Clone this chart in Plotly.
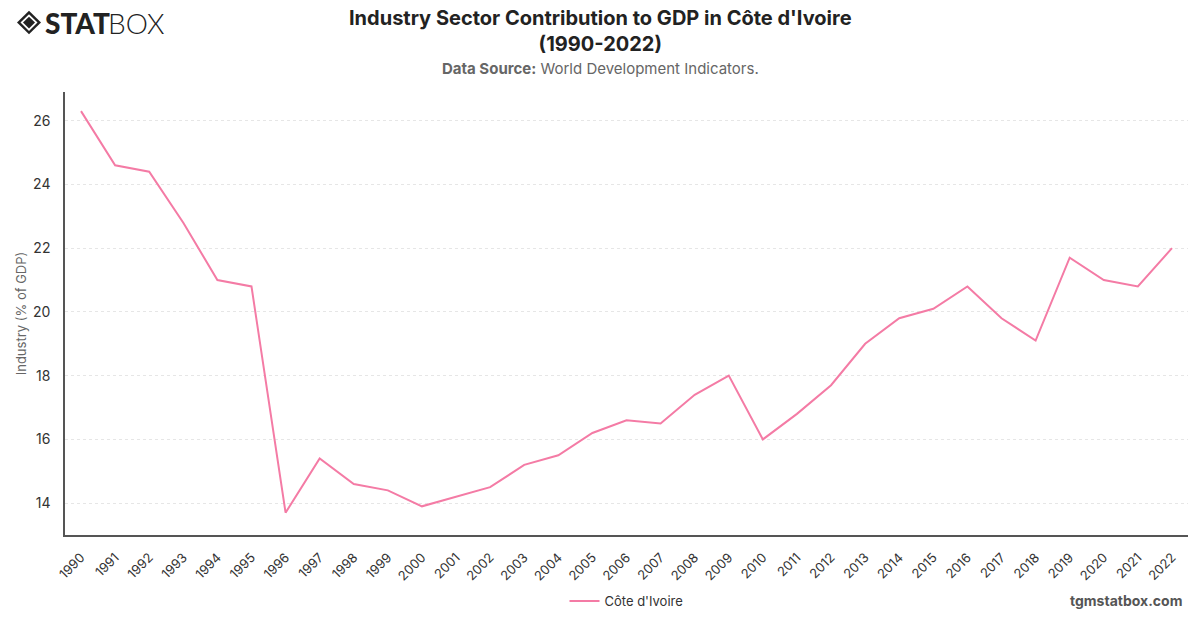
import plotly.graph_objects as go

years = list(range(1990, 2023))
industry_pct = [26.3, 24.6, 24.4, 22.8, 21.0, 20.8, 13.7, 15.4, 14.6, 14.4,
                13.9, 14.2, 14.5, 15.2, 15.5, 16.2, 16.6, 16.5, 17.4, 18.0,
                16.0, 16.8, 17.7, 19.0, 19.8, 20.1, 20.8, 19.8, 19.1, 21.7,
                21.0, 20.8, 22.0]
y_ticks = [14, 16, 18, 20, 22, 24, 26]

W, H = 1200, 628
L, R, T, B = 65, 12, 92, 83
pw, ph = W - L - R, H - T - B

def px(x):
    return (x - L) / pw

def py(y):
    return (H - B - y) / ph

fig = go.Figure()
fig.add_trace(go.Scatter(
    x=years, y=industry_pct, mode="lines", name="Côte d'Ivoire",
    line=dict(color="#F47BA5", width=2),
))

fig.update_layout(
    width=W, height=H,
    margin=dict(l=L, r=R, t=T, b=B),
    paper_bgcolor="white", plot_bgcolor="white",
    font=dict(family="Inter, Roboto, sans-serif", color="#333"),
    showlegend=True,
    legend=dict(orientation="h", x=0.5, xanchor="center", y=-0.115, yanchor="top",
                font=dict(size=13, color="#333")),
    xaxis=dict(
        tickmode="array", tickvals=years, ticktext=[str(y) for y in years],
        tickangle=-45, range=[1989.53, 2022.47],
        showline=True, linecolor="#555", linewidth=1.5,
        showgrid=False, ticks="", tickfont=dict(size=13, color="#333"),
        ticklabelstandoff=8,
        zeroline=False,
    ),
    yaxis=dict(
        tickmode="array", tickvals=y_ticks, range=[13.0, 26.9],
        showline=True, linecolor="#555", linewidth=1.5,
        showgrid=True, gridcolor="#e6e6e6", griddash="dot", gridwidth=1,
        ticks="", tickfont=dict(size=14, color="#333"),
        ticklabelstandoff=10,
        title=dict(text="Industry (% of GDP)", font=dict(size=13, color="#666"), standoff=4),
        zeroline=False,
    ),
)

fig.add_annotation(
    text="<b>Industry Sector Contribution to GDP in Côte d'Ivoire<br>(1990-2022)</b>",
    xref="paper", yref="paper", x=px(600), y=py(30), xanchor="center", yanchor="middle",
    showarrow=False, font=dict(size=20, color="#222"),
)
fig.add_annotation(
    text="<b>Data Source:</b> World Development Indicators.",
    xref="paper", yref="paper", x=px(600), y=py(68), xanchor="center", yanchor="middle",
    showarrow=False, font=dict(size=15, color="#666"),
)
fig.add_annotation(
    text="<b>tgmstatbox.com</b>",
    xref="paper", yref="paper", x=px(1184), y=py(612), xanchor="right", yanchor="middle",
    showarrow=False, font=dict(size=14, color="#555"),
)
# logo
fig.add_annotation(
    text="STAT",
    xref="paper", yref="paper", x=px(43), y=py(21), xanchor="left", yanchor="middle",
    showarrow=False, font=dict(size=28, color="#222", family="Lato, Inter, sans-serif", weight=900),
)
fig.add_annotation(
    text="BOX",
    xref="paper", yref="paper", x=px(106), y=py(21), xanchor="left", yanchor="middle",
    showarrow=False, font=dict(size=28, color="#222", family="Lato, Inter, sans-serif", weight=300),
)
cx, cy = 29, 21
def diamond(r):
    return (f"M {px(cx - r)} {py(cy)} L {px(cx)} {py(cy - r)} "
            f"L {px(cx + r)} {py(cy)} L {px(cx)} {py(cy + r)} Z")
fig.add_shape(type="path", xref="paper", yref="paper", path=diamond(12),
              fillcolor="#222", line=dict(width=0))
fig.add_shape(type="path", xref="paper", yref="paper", path=diamond(8.5),
              fillcolor="white", line=dict(width=0))
fig.add_shape(type="path", xref="paper", yref="paper", path=diamond(6),
              fillcolor="#222", line=dict(width=0))

fig.write_html("out.html")
